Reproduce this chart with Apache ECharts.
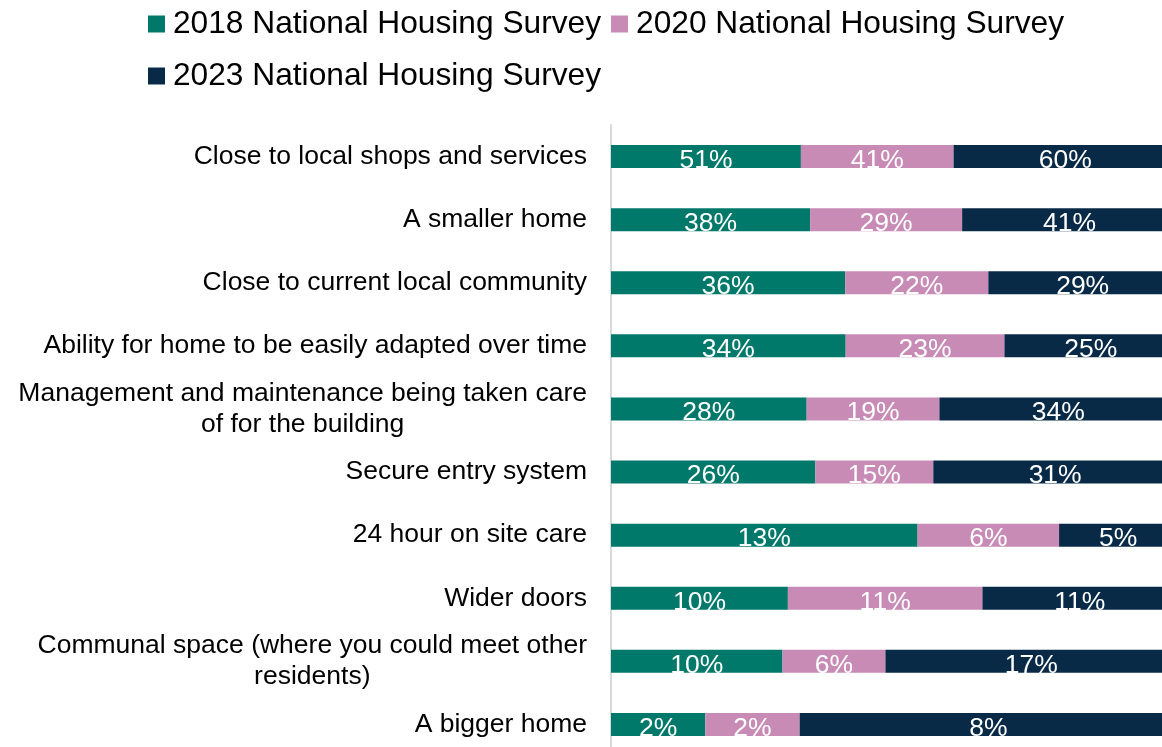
<!DOCTYPE html>
<html>
<head>
<meta charset="utf-8">
<script src="https://cdn.jsdelivr.net/npm/echarts@6/dist/echarts.min.js"></script>
<style>
  html, body { margin: 0; padding: 0; background: #fff; overflow: hidden; }
  /* plot runs a little past the right and bottom edges of the window, as in the source */
  #chart { width: 1177px; height: 756px; }
</style>
</head>
<body>
<div id="chart"></div>
<script>
var categories = [
  'Close to local shops and services',
  'A smaller home',
  'Close to current local community',
  'Ability for home to be easily adapted over time',
  'Management and maintenance being taken care\nof for the building',
  'Secure entry system',
  '24 hour on site care',
  'Wider doors',
  'Communal space (where you could meet other\nresidents)',
  'A bigger home'
];
var seriesNames = ['2018 National Housing Survey', '2020 National Housing Survey', '2023 National Housing Survey'];
var survey2018 = [51, 38, 36, 34, 28, 26, 13, 10, 10, 2];
var survey2020 = [41, 29, 22, 23, 19, 15, 6, 11, 6, 2];
var survey2023 = [60, 41, 29, 25, 34, 31, 5, 11, 17, 8];

var colors = ['#00786A', '#C78BB6', '#082A47'];
var FONT = '"Liberation Sans", Arial, sans-serif';
var LABEL_SIZE = 26.5;

// each row is drawn as a 100% stacked bar
var raw = [survey2018, survey2020, survey2023];
var totals = categories.map(function (c, i) {
  return survey2018[i] + survey2020[i] + survey2023[i];
});

var chart = echarts.init(document.getElementById('chart'));

var series = seriesNames.map(function (name, s) {
  return {
    name: name,
    type: 'bar',
    stack: 'total',
    barWidth: 23,
    itemStyle: { color: colors[s] },
    label: {
      show: true,
      position: 'inside',
      offset: [0, 4],
      color: '#fff',
      fontFamily: FONT,
      fontSize: LABEL_SIZE,
      formatter: function (p) { return raw[s][p.dataIndex] + '%'; }
    },
    data: raw[s].map(function (v, i) { return v / totals[i]; })
  };
});

chart.setOption({
  animation: false,
  color: colors,
  textStyle: { fontFamily: FONT },
  legend: {
    left: 148,
    top: 3,
    padding: 0,
    width: 930,
    itemWidth: 17,
    itemHeight: 17,
    itemGap: 10,
    icon: 'rect',
    textStyle: { fontFamily: FONT, fontSize: 31.7, color: '#000', lineHeight: 42, padding: [0, 0, 0, 3] },
    data: seriesNames
  },
  grid: { left: 611, right: 0, top: 125, bottom: 0, containLabel: false },
  xAxis: {
    type: 'value',
    min: 0,
    max: 1,
    show: false
  },
  yAxis: {
    type: 'category',
    inverse: true,
    data: categories,
    axisLine: { show: true, lineStyle: { color: '#D9D9D9', width: 2 } },
    axisTick: { show: false },
    axisLabel: {
      margin: 24,
      color: '#000',
      fontFamily: FONT,
      fontSize: LABEL_SIZE,
      lineHeight: 31,
      formatter: function (value) {
        var lines = value.split('\n');
        if (lines.length < 2) return value;
        // wrapped labels: lines centred on each other
        return lines.map(function (l) { return '{c|' + l + '}'; }).join('\n');
      },
      rich: {
        c: { align: 'center', fontFamily: FONT, fontSize: LABEL_SIZE, color: '#000', lineHeight: 31 }
      }
    }
  },
  series: series
});
</script>
</body>
</html>
